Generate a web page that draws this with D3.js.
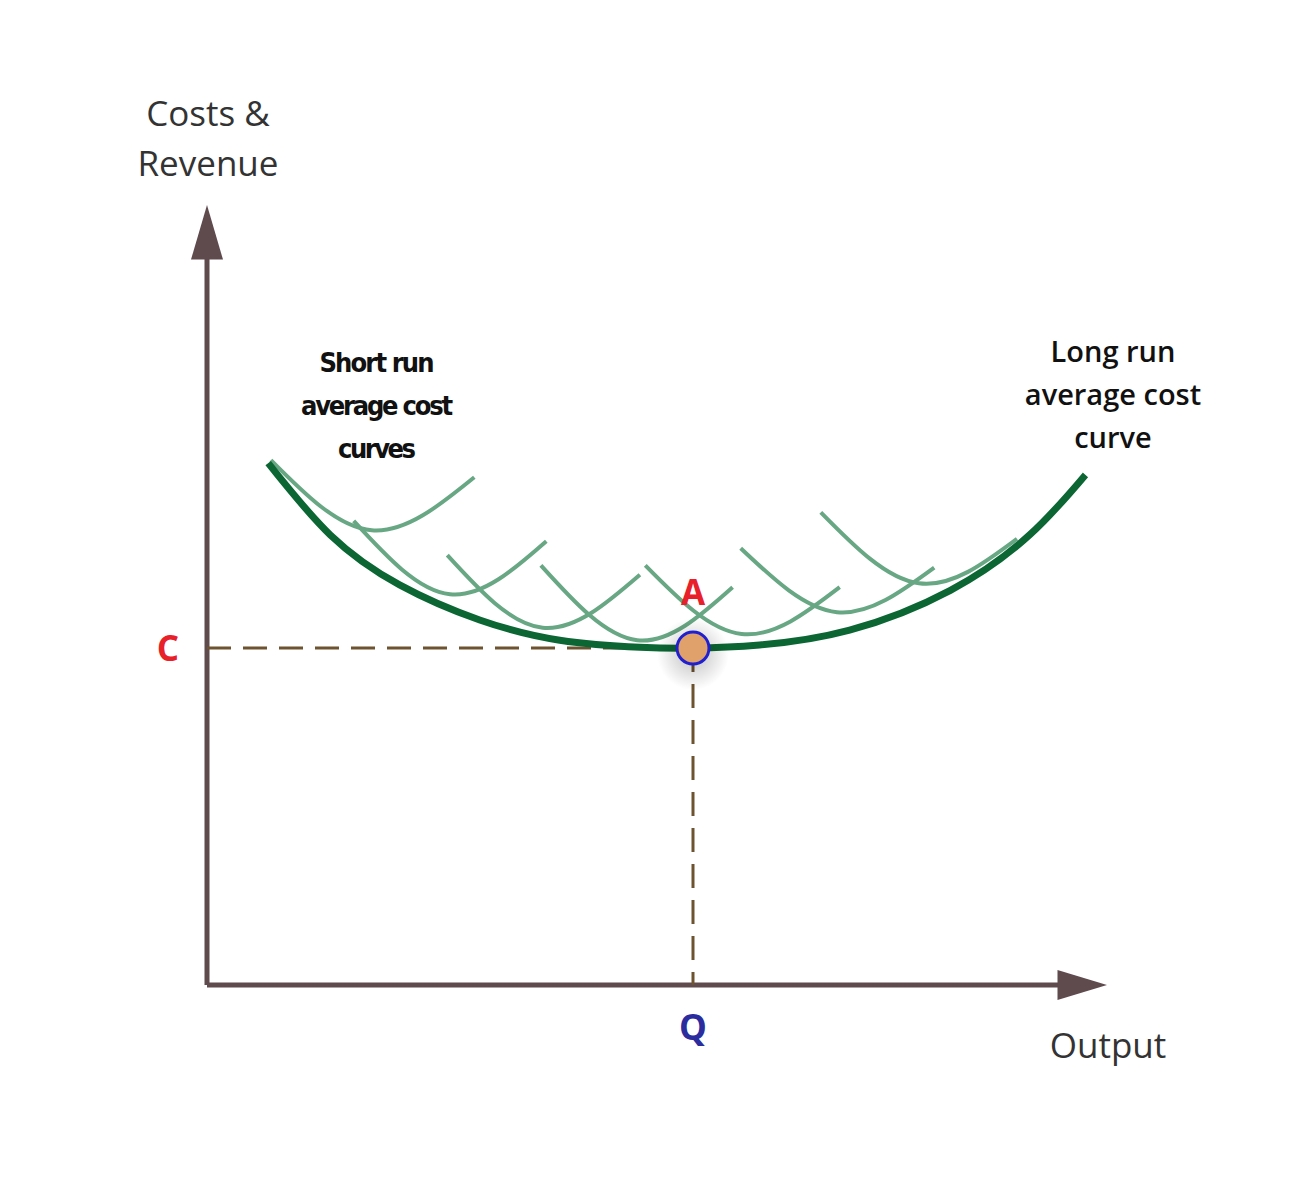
<!DOCTYPE html>
<html><head><meta charset="utf-8">
<script src="https://cdn.jsdelivr.net/npm/d3@7"></script>
<style>body{margin:0;background:#fff}</style>
</head><body>
<svg id="chart" width="1309" height="1200"></svg>
<script>
// long run average cost curve (output, cost)
var lracX = [6.8, 13.7, 21.4, 30.3, 39.2, 48.1, 54.0, 61.4, 71.4, 82.6, 91.4, 97.6];
var lracY = [66.9, 57.7, 51.3, 46.8, 44.2, 43.3, 43.2, 43.6, 45.5, 50.6, 57.7, 65.4];

// short run curves: start, minimum, end
var srX = [[7.1, 18.3, 29.7], [16.3, 27.0, 37.7], [26.7, 37.3, 48.1], [37.1, 47.8, 58.4],
           [48.7, 59.4, 70.3], [59.3, 70.0, 80.8], [68.2, 79.1, 90.0]];
var srY = [[67.3, 58.3, 65.1], [59.5, 50.1, 56.9], [55.1, 45.8, 52.6], [53.8, 44.2, 51.0],
           [53.8, 45.0, 51.0], [56.0, 47.8, 53.5], [60.6, 51.5, 57.2]];

var pointA = {x: 54.0, y: 43.2};
var yTitle = ['Costs &', 'Revenue'];
var xTitle = 'Output';
var srLabel = ['Short run', 'average cost', 'curves'];
var lrLabel = ['Long run', 'average cost', 'curve'];

let svg = d3.select('#chart');
let x = d3.scaleLinear().domain([0, 100]).range([207, 1107]);
let y = d3.scaleLinear().domain([0, 100]).range([985, 205]);
let axisCol = '#5f4a4e';

// axes
svg.append('line').attr('x1', x(0)).attr('y1', y(0)).attr('x2', x(0)).attr('y2', y(94))
    .attr('stroke', axisCol).attr('stroke-width', 5);
svg.append('line').attr('x1', x(0)).attr('y1', y(0)).attr('x2', x(96)).attr('y2', y(0))
    .attr('stroke', axisCol).attr('stroke-width', 5);
svg.append('path').attr('fill', axisCol)
    .attr('d', `M${x(0)},${y(100)} L${x(0) - 16},${y(93)} L${x(0) + 16},${y(93)} Z`);
svg.append('path').attr('fill', axisCol)
    .attr('d', `M${x(100)},${y(0)} L${x(94.5)},${y(0) - 15} L${x(94.5)},${y(0) + 15} Z`);

// dashed guides
let dashCol = '#6e5330';
svg.append('line').attr('x1', x(0)).attr('y1', y(pointA.y)).attr('x2', x(pointA.x)).attr('y2', y(pointA.y))
    .attr('stroke', dashCol).attr('stroke-width', 3).attr('stroke-dasharray', '24,12');
svg.append('line').attr('x1', x(pointA.x)).attr('y1', y(pointA.y)).attr('x2', x(pointA.x)).attr('y2', y(0))
    .attr('stroke', dashCol).attr('stroke-width', 3).attr('stroke-dasharray', '24,12');

// short run curves
let line = d3.line().x(d => x(d[0])).y(d => y(d[1])).curveNatural;
let srLine = d3.line().x(d => x(d[0])).y(d => y(d[1])).curve(d3.curveNatural);
for (const i in srX) {
    svg.append('path').attr('d', srLine(d3.zip(srX[i], srY[i])))
        .attr('fill', 'none').attr('stroke', '#68a783').attr('stroke-width', 4);
}

// long run curve
svg.append('path').attr('d', srLine(d3.zip(lracX, lracY)))
    .attr('fill', 'none').attr('stroke', '#0b6633').attr('stroke-width', 7);

// point A with glow
let defs = svg.append('defs');
let grad = defs.append('radialGradient').attr('id', 'glow');
grad.append('stop').attr('offset', '0%').attr('stop-color', '#000').attr('stop-opacity', 0.25);
grad.append('stop').attr('offset', '100%').attr('stop-color', '#000').attr('stop-opacity', 0);
svg.append('circle').attr('cx', x(pointA.x)).attr('cy', y(pointA.y) + 6).attr('r', 36).attr('fill', 'url(#glow)');
svg.append('circle').attr('cx', x(pointA.x)).attr('cy', y(pointA.y)).attr('r', 16)
    .attr('fill', '#e0a26a').attr('stroke', '#2020d0').attr('stroke-width', 3);

// labels
let font = 'Open Sans, DejaVu Sans, sans-serif';
svg.selectAll('.yt').data(yTitle).join('text')
    .attr('x', 208).attr('y', (d, i) => 126 + i * 50).attr('text-anchor', 'middle')
    .attr('font-family', font).attr('font-size', 35).attr('fill', '#333').text(d => d);
svg.append('text').attr('x', 1108).attr('y', 1058).attr('text-anchor', 'middle')
    .attr('font-family', font).attr('font-size', 35).attr('fill', '#333').text(xTitle);
svg.selectAll('.sr').data(srLabel).join('text')
    .attr('x', 377).attr('y', (d, i) => 372 + i * 43).attr('text-anchor', 'middle')
    .attr('font-family', 'DejaVu Sans Condensed, DejaVu Sans, sans-serif').attr('font-weight', 'bold')
    .attr('font-size', 27).attr('fill', '#111').attr('textLength', (d, i) => [115, 152, 78][i]).text(d => d);
svg.selectAll('.lr').data(lrLabel).join('text')
    .attr('x', 1113).attr('y', (d, i) => 362 + i * 43).attr('text-anchor', 'middle')
    .attr('font-family', font).attr('font-weight', 600)
    .attr('font-size', 29).attr('fill', '#111').text(d => d);
svg.append('text').attr('x', 168).attr('y', y(pointA.y) + 13).attr('text-anchor', 'middle')
    .attr('font-family', font).attr('font-weight', 'bold').attr('font-size', 35).attr('fill', '#e8202a').text('C');
svg.append('text').attr('x', x(pointA.x)).attr('y', 1040).attr('text-anchor', 'middle')
    .attr('font-family', font).attr('font-weight', 'bold').attr('font-size', 35).attr('fill', '#2b2d9e').text('Q');
svg.append('text').attr('x', x(pointA.x)).attr('y', y(pointA.y) - 43).attr('text-anchor', 'middle')
    .attr('font-family', font).attr('font-weight', 'bold').attr('font-size', 35).attr('fill', '#e8202a').text('A');
</script>
</body></html>
